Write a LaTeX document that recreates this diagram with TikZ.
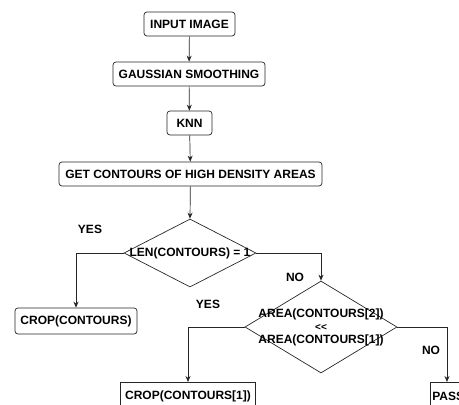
\documentclass[tikz,border=0pt]{standalone}
\usepackage{fontspec}
\setmainfont{Liberation Sans}
\usetikzlibrary{shapes.geometric,arrows.meta,calc}
\begin{document}
\begin{tikzpicture}[x=1pt,y=1pt,
  font=\fontsize{12}{14}\selectfont\bfseries,
  line/.style={draw=black!85,line width=0.7pt},
  arr/.style={line,-{Stealth[length=6pt,width=5pt]}},
  rbox/.style={line,rounded corners=3pt,minimum height=24pt,inner xsep=2pt,inner ysep=0pt},
  sbox/.style={line,minimum height=28pt,inner xsep=2pt,inner ysep=0pt},
  dia/.style={line,diamond,inner sep=0pt},
  lbl/.style={inner sep=0pt}]
\useasboundingbox (0,0) rectangle (459,405);
\begin{scope}
\clip (0,0) rectangle (459,405);
\node[rbox,minimum width=91pt] (in) at (189.5,381) {INPUT IMAGE};
\node[rbox,minimum width=152pt] (gs) at (189,331) {GAUSSIAN SMOOTHING};
\node[rbox,minimum width=45pt] (knn) at (189.5,282) {KNN};
\node[rbox,minimum width=263pt] (gc) at (190.5,231) {GET CONTOURS OF HIGH DENSITY AREAS};
\node[dia,minimum width=132pt,minimum height=68pt] (d1) at (190,152) {};
\node[lbl] (t1) at (d1.center) {LEN(CONTOURS) = 1};
\node[rbox,minimum width=122pt,minimum height=26pt] (c0) at (76,84) {CROP(CONTOURS)};
\node[dia,minimum width=152pt,minimum height=92pt] (d2) at (321,78) {};
\node[lbl,align=center] (t2) at (d2.center) {AREA(CONTOURS[2])\\[-1pt]{\fontsize{10}{12}\selectfont\textless\kern0pt\textless}\\[-1pt]AREA(CONTOURS[1])};
\node[sbox,minimum width=135pt,anchor=north] (c1) at (188,23) {CROP(CONTOURS[1])};
\node[sbox,minimum width=60pt,anchor=north west,text width=56pt,align=left,inner xsep=1pt] (ps) at (430,23) {PASS};
\coordinate (pt) at (447,23);
\draw[arr] (in) -- (gs);
\draw[arr] (gs) -- (knn);
\draw[arr] (knn) -- (gc);
\draw[arr] (gc) -- (d1.north);
\draw[arr] (d1.west) -| (c0.north);
\draw[arr] (d1.east) -| (d2.north);
\draw[arr] (d2.west) -| (c1.north);
\draw[arr] (d2.east) -| (pt);
\node[lbl] (y1) at (90,176) {YES};
\node[lbl] (n1) at (295,128) {NO};
\node[lbl] (y2) at (208,101) {YES};
\node[lbl] (n2) at (431,55) {NO};
\end{scope}
\end{tikzpicture}
\end{document}
